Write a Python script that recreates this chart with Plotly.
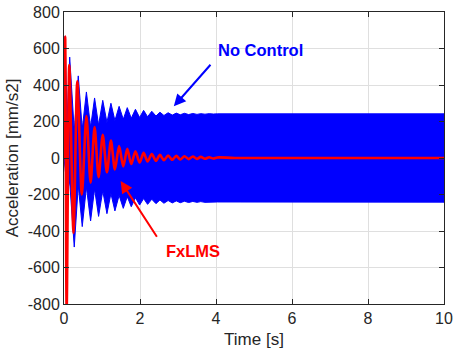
import plotly.graph_objects as go

# ---- data ----
# No Control: upper and lower edge of the dense blue oscillation band (time [s], acceleration [mm/s2])
blue_up_t = [0, 0.03, 0.08, 0.15, 0.27, 0.375, 0.48, 0.59, 0.70, 0.805, 0.91, 1.02, 1.13, 1.235,
             1.34, 1.45, 1.56, 1.665, 1.77, 1.88, 1.99, 2.095, 2.2, 2.31, 2.42, 2.525, 2.63, 2.74,
             2.85, 2.955, 3.06, 3.17, 3.28, 3.39, 3.5, 3.6, 3.71, 3.82, 3.93, 4.04, 10]
blue_up_v = [0, 668, 200, 553, 150, 450, 160, 362, 170, 329, 180, 316, 195, 300,
             205, 283, 212, 276, 218, 267, 222, 261, 226, 256, 230, 251, 233, 248,
             235, 246, 237, 245, 238, 244, 239, 243, 240, 243, 241, 242, 242]
blue_lo_t = [0, 0.03, 0.09, 0.15, 0.27, 0.375, 0.48, 0.59, 0.70, 0.805, 0.91, 1.02, 1.13, 1.235,
             1.34, 1.45, 1.56, 1.665, 1.77, 1.88, 1.99, 2.095, 2.2, 2.31, 2.42, 2.525, 2.63, 2.74,
             2.85, 2.955, 3.06, 3.17, 3.28, 3.39, 3.5, 3.6, 3.71, 3.82, 3.93, 4.04, 10]
blue_lo_v = [0, -60, -177, -130, -488, -150, -376, -160, -345, -170, -320, -180, -305, -195,
             -290, -205, -276, -212, -267, -218, -258, -222, -254, -226, -250, -230, -248, -233,
             -246, -235, -245, -237, -244, -238, -243, -239, -243, -240, -242, -241, -242]

# FxLMS: peaks and troughs of the red response
red_t = [0, 0.03, 0.07, 0.14, 0.25, 0.35, 0.47, 0.59, 0.70, 0.805, 0.91, 1.02, 1.13, 1.235,
         1.34, 1.45, 1.56, 1.665, 1.77, 1.88, 1.99, 2.095, 2.2, 2.31, 2.42, 2.525, 2.63, 2.74,
         2.85, 2.955, 3.06, 3.17, 3.28, 3.39, 3.5, 3.6, 3.71, 3.82, 3.93, 4.04, 4.5, 10]
red_v = [0, 665, -830, 510, -410, 420, -200, 230, -135, 170, -105, 127, -78, 96,
         -63, 66, -46, 50, -33, 37, -25, 28, -19, 22, -15, 17, -12, 14,
         -10, 12, -8, 10, -6, 8, -5, 6, -4, 4, -3, 3, 0, 0]

x_ticks = [0, 2, 4, 6, 8, 10]
y_ticks = [-800, -600, -400, -200, 0, 200, 400, 600, 800]

FONT = "Liberation Sans, Arial, sans-serif"
AX = "#262626"

fig = go.Figure()
fig.add_trace(go.Scatter(
    x=blue_up_t + blue_lo_t[::-1],
    y=blue_up_v + blue_lo_v[::-1],
    mode="lines", fill="toself", fillcolor="#0000ff",
    line=dict(color="#0000ff", width=1), hoverinfo="skip", name="No Control"))
fig.add_trace(go.Scatter(
    x=red_t, y=red_v, mode="lines",
    line=dict(color="#ff0000", width=2.6, shape="spline", smoothing=0.8),
    name="FxLMS"))

axis_common = dict(
    showgrid=True, gridcolor="#dfdfdf", gridwidth=1, zeroline=False,
    showline=True, linecolor=AX, linewidth=1, mirror="ticks",
    ticks="inside", ticklen=5, tickcolor=AX, tickwidth=1,
    tickfont=dict(family=FONT, size=16, color=AX), automargin=False,
)
fig.update_xaxes(range=[0, 10], tickvals=x_ticks, ticktext=[str(v) for v in x_ticks],
                 title=dict(text="Time [s]", font=dict(family=FONT, size=17, color=AX), standoff=6),
                 **axis_common)
fig.update_yaxes(range=[-800, 800], tickvals=y_ticks, ticktext=[str(v) for v in y_ticks],
                 title=dict(text="Acceleration [mm/s2]", font=dict(family=FONT, size=17, color=AX), standoff=4),
                 **axis_common)

fig.add_annotation(x=5.16, y=590, xref="x", yref="y", text="<b>No Control</b>", showarrow=False,
                   font=dict(family=FONT, size=16.5, color="#0000ff"))
fig.add_annotation(x=2.89, y=283, ax=3.89, ay=519, xref="x", yref="y", axref="x", ayref="y",
                   text="", showarrow=True, arrowhead=2, arrowsize=1.2, arrowwidth=2, arrowcolor="#0000ff")
fig.add_annotation(x=3.39, y=-511, xref="x", yref="y", text="<b>FxLMS</b>", showarrow=False,
                   font=dict(family=FONT, size=16.5, color="#ff0000"))
fig.add_annotation(x=1.49, y=-126, ax=2.47, ay=-440, xref="x", yref="y", axref="x", ayref="y",
                   text="", showarrow=True, arrowhead=2, arrowsize=1.2, arrowwidth=2, arrowcolor="#ff0000")

fig.update_layout(
    width=454, height=355, margin=dict(l=64, r=10, t=12, b=51, autoexpand=False),
    paper_bgcolor="white", plot_bgcolor="white", showlegend=False,
    font=dict(family=FONT, color=AX),
)
fig.write_html("out.html")
